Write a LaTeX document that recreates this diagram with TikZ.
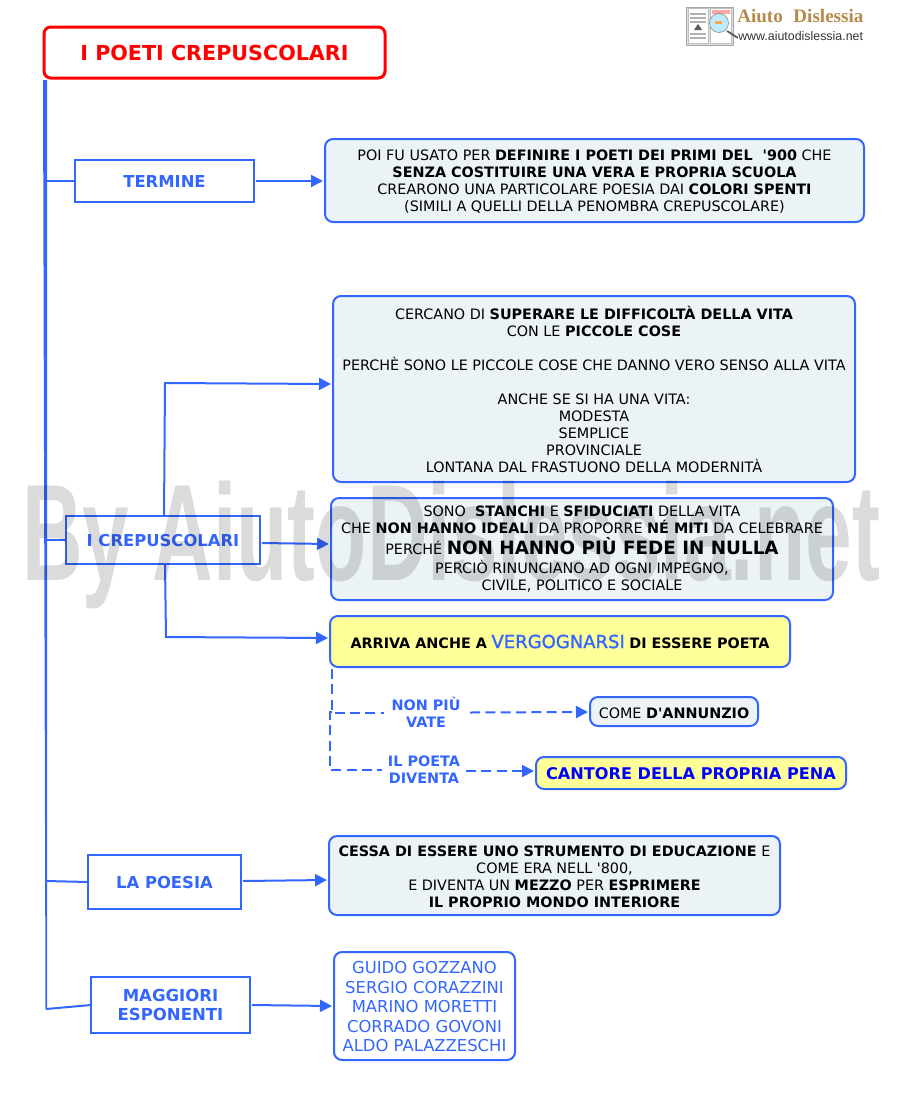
\documentclass[tikz,border=0pt]{standalone}
\usepackage{fontspec}
\setmainfont{DejaVu Sans}
\newfontfamily\wmfont{Liberation Sans}
\newfontfamily\logofont{Liberation Serif}
\newfontfamily\urlfont{Liberation Sans}
\newfontfamily\aposfont{DejaVu Sans}
\newfontfamily\fatfont[FakeBold=1.3]{DejaVu Sans}
\usetikzlibrary{arrows.meta}
\definecolor{lineblue}{HTML}{3366FF}
\definecolor{boxfill}{HTML}{ECF3F7}
\definecolor{softyellow}{HTML}{FFFF99}
\definecolor{logobrown}{HTML}{B5894A}
\newcommand{\sz}[1]{\fontsize{#1}{12.75pt}\selectfont}
\newcommand{\up}{\rule{0pt}{10pt}}
\newcommand{\apos}{{\aposfont'}}
\tikzset{
  x=0.75pt,y=-0.75pt,
  wh/.style 2 args={minimum width=#1*0.75pt,minimum height=#2*0.75pt},
  base/.style={inner sep=0pt,outer sep=0pt,align=center,font=\sz{10.77}},
  titlebox/.style={base,draw=red,line width=2.25pt,rounded corners=5pt,text=red,font=\sz{15.5}\bfseries},
  topic/.style={base,draw=lineblue,line width=1.5pt,text=lineblue,font=\sz{12.3}\bfseries},
  info/.style={base,draw=lineblue,line width=1.5pt,rounded corners=6pt,fill=boxfill},
  hilite/.style={base,draw=lineblue,line width=1.5pt,rounded corners=6pt,fill=softyellow},
  plainbox/.style={base,draw=lineblue,line width=1.5pt,rounded corners=6pt,fill=white,text=lineblue,font=\fontsize{12.3}{14.6pt}\selectfont},
  tag/.style={base,text=lineblue,font=\sz{10.8}\bfseries},
  link/.style={draw=lineblue,line width=1.5pt,-{Triangle[length=9pt,width=9pt]}},
  stem/.style={draw=lineblue,line width=1.5pt},
  dashlink/.style={draw=lineblue,line width=1.5pt,dash pattern=on 7.5pt off 4pt},
}
\begin{document}
\begin{tikzpicture}
\useasboundingbox (0,0) rectangle (900,1100);
% logo
\fill[gray!25,draw=gray!70] (686,7) rectangle (733,45);
\fill[white,draw=gray!50] (688,8) rectangle (708,43);
\fill[white,draw=gray!50] (710,8) rectangle (731,43);
\fill[red!35] (712,10) rectangle (730,14);
\draw[gray!60,line width=1.2pt] (690,14) -- (706,14) (690,18) -- (706,18) (690,22) -- (706,22) (690,34) -- (706,34) (690,38) -- (706,38);
\fill[gray!70!black] (694,30) -- (698,24) -- (702,30) -- cycle;
\draw[gray!70!black,line width=1.3pt] (727,31) -- (738,38);
\fill[cyan!25,draw=gray] (719,23) circle (9.5);
\fill[orange!70] (715,21) rectangle (722,24);
\node[inner sep=0pt,text=logobrown,font=\logofont\fontsize{14.3}{15}\selectfont\bfseries,anchor=west] (logotext) at (737,16) {Aiuto\hspace{8pt}Dislessia};
\node[inner sep=0pt,text=black!80,font=\urlfont\fontsize{9.3}{10}\selectfont,anchor=west] (logourl) at (738,36) {www.aiutodislessia.net};
% nodes
\node[titlebox,wh={341}{51}] (title) at (214.5,52.5) {I POETI CREPUSCOLARI};
\node[topic,wh={179}{42}] (termine) at (164.5,181) {\up TERMINE};
\node[info,wh={539}{83}] (def) at (594.5,180.5) {\up POI FU USATO PER \textbf{DEFINIRE I POETI DEI PRIMI DEL\ \ \apos900} CHE\\\textbf{SENZA COSTITUIRE UNA VERA E PROPRIA SCUOLA}\\CREARONO UNA PARTICOLARE POESIA DAI \textbf{COLORI SPENTI}\\(SIMILI A QUELLI DELLA PENOMBRA CREPUSCOLARE)};
\node[info,wh={522}{186}] (cose) at (594,389) {\up CERCANO DI \textbf{SUPERARE LE DIFFICOLTÀ DELLA VITA}\\CON LE \textbf{PICCOLE COSE}\\~\\PERCHÈ SONO LE PICCOLE COSE CHE DANNO VERO SENSO ALLA VITA\\~\\ANCHE SE SI HA UNA VITA:\\MODESTA\\SEMPLICE\\PROVINCIALE\\LONTANA DAL FRASTUONO DELLA MODERNITÀ};
\node[topic,wh={194}{48}] (crep) at (163,540) {\up I CREPUSCOLARI};
\node[info,wh={502}{102}] (stanchi) at (582,549) {SONO\ \ \textbf{STANCHI} E \textbf{SFIDUCIATI} DELLA VITA\\CHE \textbf{NON HANNO IDEALI} DA PROPORRE \textbf{NÉ MITI} DA CELEBRARE\\[2pt]PERCHÉ {\fontsize{13.75}{12.75pt}\selectfont\textbf{NON HANNO PIÙ FEDE IN NULLA}}\\[1.5pt]PERCIÒ RINUNCIANO AD OGNI IMPEGNO,\\CIVILE, POLITICO E SOCIALE};
\node[hilite,wh={460}{51}] (vergogna) at (560,641.5) {\up\textbf{ARRIVA ANCHE A} {\fatfont\fontsize{13.5}{12.75pt}\selectfont\textcolor{lineblue}{VERGOGNARSI}} \textbf{DI ESSERE POETA}};
\node[tag,wh={84}{34}] (nonpiu) at (426,712.5) {NON PIÙ\\VATE};
\node[info,wh={168}{29}] (dann) at (674,711.5) {\up COME \textbf{D\apos ANNUNZIO}};
\node[tag,wh={84}{34}] (ilpoeta) at (424,770) {IL POETA\\DIVENTA};
\node[hilite,wh={310}{32},text=blue,font=\sz{12.1}\bfseries] (cantore) at (691,773) {\up CANTORE DELLA PROPRIA PENA};
\node[topic,wh={153}{54}] (poesia) at (164.5,882) {\up LA POESIA};
\node[info,wh={451}{79}] (mezzo) at (554.5,875.5) {\up\textbf{CESSA DI ESSERE UNO STRUMENTO DI EDUCAZIONE} E\\COME ERA NELL \apos800,\\E DIVENTA UN \textbf{MEZZO} PER \textbf{ESPRIMERE}\\\textbf{IL PROPRIO MONDO INTERIORE}};
\node[topic,wh={159}{56},font=\fontsize{12.4}{14.6pt}\selectfont\bfseries] (magg) at (170.5,1005) {MAGGIORI\\ESPONENTI};
\node[plainbox,wh={181}{108}] (nomi) at (424.5,1006) {\up GUIDO GOZZANO\\SERGIO CORAZZINI\\MARINO MORETTI\\CORRADO GOVONI\\ALDO PALAZZESCHI};
% connector ends that stop just short of their boxes
\coordinate (defin) at (323,181);
\coordinate (cosein) at (331,384);
\coordinate (stanchiin) at (329,544);
\coordinate (vergognain) at (328,638);
\coordinate (mezzoin) at (327,880);
\coordinate (nomiin) at (332,1006);
\coordinate (dannin) at (588,712);
\coordinate (cantorein) at (534,771);
% trunk
\coordinate (trunktop) at (45,80);
\coordinate (trunkend) at (46,1009);
\fill[lineblue] (trunktop) ++(-2,0) -- ++(4,0) -- (47,1009) -- (45.5,1009) -- cycle;
\draw[stem] (46,181) -- (termine.west);
\draw[stem] (46,540) -- (crep.west);
\draw[stem] (46,881) -- (poesia.west);
\draw[stem] (trunkend) -- (magg.west);
% arrows
\draw[link] (termine.east) ++(2,0) -- (defin);
\draw[link] (crep.north) ++(1,0) -- (165,383) -- (cosein);
\draw[link] (crep.east) ++(2,3) -- (stanchiin);
\draw[link] (crep.south) ++(2,0) -- (166,637) -- (vergognain);
\draw[link] (poesia.east) ++(2,-1) -- (mezzoin);
\draw[link] (magg.east) ++(2,0) -- (nomiin);
% dashed
\draw[dashlink] (vergogna.south west) ++(2,2) |- (nonpiu.west);
\draw[dashlink] (vergogna.south west) ++(2,45) -- ++(-2,0) |- (ilpoeta.west);
\draw[dashlink,-{Triangle[length=9pt,width=9pt]}] (nonpiu.east) ++(2,0) -- (dannin);
\draw[dashlink,-{Triangle[length=9pt,width=9pt]}] (ilpoeta.east) ++(0,1) -- (cantorein);
% watermark
\node[inner sep=0pt,anchor=base west,text=black,text opacity=0.14,font=\wmfont\fontsize{103}{110}\selectfont\bfseries] (wm) at (22,580) {\scalebox{0.611}[1]{By AiutoDislessia.net}};
\end{tikzpicture}
\end{document}
